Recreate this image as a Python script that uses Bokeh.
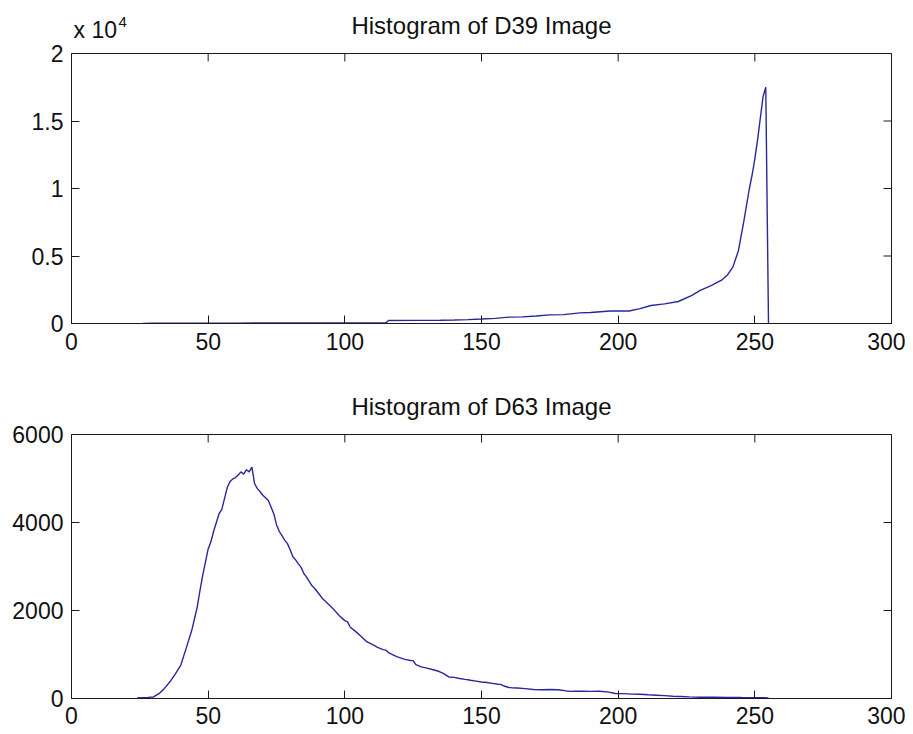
import math
from bokeh.plotting import figure
from bokeh.models import FixedTicker, Range1d
from bokeh.layouts import column
from bokeh.core.properties import value
from bokeh.embed import file_html
from bokeh.resources import INLINE

# ---- data ----
d39_x = [26, 30, 40, 60, 80, 100, 115, 116, 125, 135, 140, 145, 150, 155, 160,
         165, 170, 175, 180, 186, 190, 197, 204, 208, 212, 217, 222, 227, 230,
         234, 238, 240, 242, 244, 245, 246, 247, 248, 249, 250, 251, 252, 253,
         254, 255]
d39_y = [10, 20, 25, 30, 35, 40, 45, 220, 230, 240, 260, 290, 330, 380, 470,
         490, 560, 640, 660, 790, 820, 930, 930, 1100, 1330, 1450, 1630, 2080, 2450,
         2800, 3240, 3600, 4200, 5400, 6500, 7600, 8800, 10000, 11000, 12200, 13600, 15200, 16800,
         17500, 0]

d63_x = [24, 26, 28, 30, 32, 34, 36, 38, 40, 42, 44, 46, 47, 48, 49, 50, 51, 52,
         53, 54, 55, 56, 57, 58, 59, 60, 61, 62, 63, 64, 65, 66, 67, 68, 69, 70,
         71, 72, 73, 74, 75, 76, 77, 78, 79, 80, 81, 82, 83, 84, 85, 86, 88, 89,
         90, 92, 94, 96, 98, 100, 101, 102, 104, 106, 108, 110, 112, 114, 115, 116,
         118, 119, 120, 122, 124, 125, 126, 128, 130, 132, 134, 135, 136, 138, 140,
         142, 144, 145, 146, 148, 150, 152, 154, 156, 157, 158, 160, 161, 163, 166,
         169, 172, 175, 178, 181, 183, 184, 187, 190, 193, 196, 199, 202, 205, 208,
         211, 214, 217, 220, 223, 226, 230, 235, 240, 245, 250, 253, 255]
d63_y = [15, 20, 25, 35, 110, 230, 380, 560, 760, 1150, 1550, 2080, 2450, 2800, 3100, 3400, 3560, 3800,
         4000, 4200, 4300, 4550, 4800, 4930, 4990, 5020, 5080, 5150, 5100, 5200, 5150, 5260, 4880, 4770, 4700, 4620,
         4560, 4500, 4350, 4200, 3950, 3800, 3700, 3600, 3520, 3380, 3220, 3150, 3060, 2980, 2840, 2760, 2560, 2500,
         2420, 2260, 2140, 2020, 1880, 1770, 1740, 1620, 1520, 1410, 1290, 1230, 1160, 1110, 1100, 1040,
         980, 950, 930, 890, 865, 860, 770, 720, 690, 660, 625, 600, 570, 490, 480,
         455, 435, 427, 415, 395, 374, 365, 345, 325, 322, 290, 250, 246, 240, 225,
         205, 200, 205, 200, 172, 163, 165, 168, 163, 165, 150, 115, 110, 100, 98,
         85, 75, 65, 52, 45, 36, 30, 28, 25, 22, 20, 20, 15]

x_ticks = [0, 50, 100, 150, 200, 250, 300]
top_y_ticks = [0, 5000, 10000, 15000, 20000]
top_y_labels = ["0", "0.5", "1", "1.5", "2"]
bottom_y_ticks = [0, 2000, 4000, 6000]
titles = ["Histogram of D39 Image", "Histogram of D63 Image"]
exponent_base = "x 10"
exponent_power = "4"

X_MAX = 300
TOP_MAX = 20000
BOTTOM_MAX = 6000

FONT = "Liberation Sans"
LINE = "#28289a"
AX = "#1a1a1a"
TXT = "#111111"

LEFT = 71
RIGHT = 14
FRAME_W = 820
HEADER_H = 42


def style_axes(p, yticks, xstandoff, ylabels=None):
    p.grid.visible = False
    p.outline_line_color = AX
    p.outline_line_width = 1
    p.background_fill_color = "white"
    p.border_fill_color = "white"
    p.xaxis.ticker = FixedTicker(ticks=x_ticks)
    p.yaxis.ticker = FixedTicker(ticks=yticks)
    for ax in p.axis:
        ax.major_tick_in = 8
        ax.major_tick_out = 0
        ax.minor_tick_in = 0
        ax.minor_tick_out = 0
        ax.axis_line_color = AX
        ax.major_tick_line_color = AX
        ax.major_label_text_font = FONT
        ax.major_label_text_font_size = "23px"
        ax.major_label_text_color = TXT
    p.xaxis.major_label_standoff = xstandoff
    p.yaxis.major_label_standoff = 8
    if ylabels is not None:
        p.yaxis.major_label_overrides = {t: s for t, s in zip(yticks, ylabels)}
    # inward ticks on the top and right edges of the box
    p.scatter(x_ticks, [p.y_range.end] * len(x_ticks), marker="dash",
              angle=math.pi / 2, size=16, line_color=AX, line_width=1)
    p.scatter([X_MAX] * len(yticks), yticks, marker="dash",
              size=16, line_color=AX, line_width=1)


# header with the title of the first panel and the exponent note
h = figure(frame_width=FRAME_W, frame_height=HEADER_H,
           x_range=Range1d(0, X_MAX), y_range=Range1d(0, HEADER_H),
           x_axis_type=None, y_axis_type=None, outline_line_color=None,
           min_border_left=LEFT, min_border_right=RIGHT,
           min_border_top=0, min_border_bottom=0,
           output_backend="svg", toolbar_location=None)
h.grid.visible = False
h.background_fill_color = "white"
h.border_fill_color = "white"
h.text(x=[X_MAX / 2], y=[HEADER_H - 25], text=[titles[0]], text_align=value("center"),
       text_baseline=value("middle"), text_font=value(FONT),
       text_font_size=value("24px"), text_color=TXT)
h.text(x=[0], y=[HEADER_H - 29], text=[exponent_base], x_offset=2, text_align=value("left"),
       text_baseline=value("middle"), text_font=value(FONT),
       text_font_size=value("23px"), text_color=TXT)
h.text(x=[0], y=[HEADER_H - 21], text=[exponent_power], x_offset=47, text_align=value("left"),
       text_baseline=value("middle"), text_font=value(FONT),
       text_font_size=value("15px"), text_color=TXT)

p1 = figure(frame_width=FRAME_W, frame_height=270,
            x_range=Range1d(0, X_MAX), y_range=Range1d(0, TOP_MAX),
            min_border_left=LEFT, min_border_right=RIGHT,
            min_border_top=11, min_border_bottom=40,
            output_backend="svg", toolbar_location=None)
p1.line(d39_x, d39_y, line_color=LINE, line_width=1.4)
style_axes(p1, top_y_ticks, 9, top_y_labels)

p2 = figure(frame_width=FRAME_W, frame_height=264,
            x_range=Range1d(0, X_MAX), y_range=Range1d(0, BOTTOM_MAX),
            min_border_left=LEFT, min_border_right=RIGHT,
            min_border_top=71, min_border_bottom=34,
            title=titles[1],
            output_backend="svg", toolbar_location=None)
p2.title.text_font = FONT
p2.title.text_font_size = "24px"
p2.title.text_font_style = "normal"
p2.title.text_color = TXT
p2.title.align = "center"
p2.title.standoff = 30
p2.line(d63_x, d63_y, line_color=LINE, line_width=1.4)
style_axes(p2, bottom_y_ticks, 8)

layout = column(h, p1, p2)
open("out.html", "w").write(file_html(layout, INLINE))
